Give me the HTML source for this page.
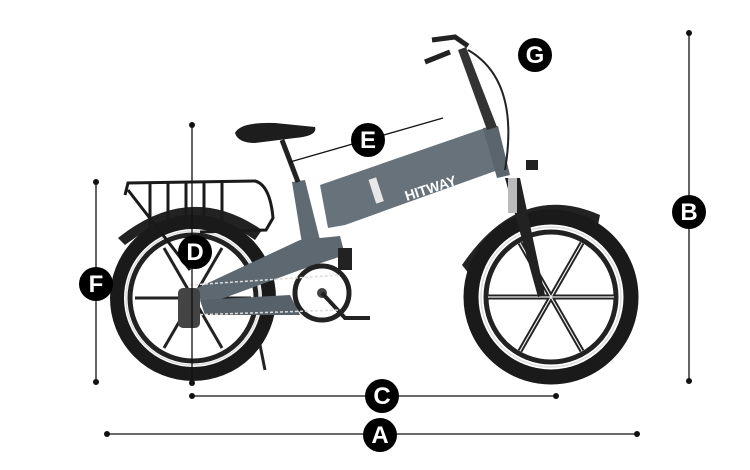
<!DOCTYPE html>
<html><head><style>body{margin:0;background:#fff}svg{display:block}</style></head><body>
<svg width="750" height="470" viewBox="0 0 750 470" xmlns="http://www.w3.org/2000/svg" font-family="Liberation Sans, sans-serif">
<rect width="750" height="470" fill="#fff"/>
<!-- fenders -->
<path d="M118 238 Q190 180 262 230 L255 240 Q190 195 125 245 Z" fill="#222"/>
<path d="M462 265 Q520 180 600 215 L598 225 Q525 195 470 275 Z" fill="#222"/>
<!-- rear wheel -->
<circle cx="193" cy="298" r="76" fill="none" stroke="#1a1a1a" stroke-width="14"/>
<circle cx="193" cy="298" r="67" fill="none" stroke="#ddd" stroke-width="1.5"/>
<circle cx="193" cy="298" r="63" fill="none" stroke="#222" stroke-width="5"/>
<g stroke="#222" stroke-width="3"><line x1="135" y1="298" x2="251" y2="298"/><line x1="164" y1="248" x2="222" y2="348"/><line x1="222" y1="248" x2="164" y2="348"/></g>
<!-- front wheel -->
<circle cx="551" cy="297" r="80" fill="none" stroke="#1a1a1a" stroke-width="15"/>
<circle cx="551" cy="297" r="70" fill="none" stroke="#ddd" stroke-width="1.5"/>
<circle cx="551" cy="297" r="65" fill="none" stroke="#222" stroke-width="5"/>
<g stroke="#222" stroke-width="5"><line x1="488" y1="297" x2="614" y2="297"/><line x1="520" y1="243" x2="582" y2="351"/><line x1="582" y1="243" x2="520" y2="351"/></g>
<g stroke="#eee" stroke-width="1.2"><line x1="488" y1="297" x2="614" y2="297"/><line x1="520" y1="243" x2="582" y2="351"/><line x1="582" y1="243" x2="520" y2="351"/></g>
<!-- rack -->
<g fill="none" stroke="#1a1a1a" stroke-width="3">
<path d="M125 195 L128 183 L255 181 Q270 185 273 218 L266 230 L200 232"/>
<line x1="150" y1="183" x2="150" y2="228"/><line x1="168" y1="183" x2="168" y2="228"/><line x1="186" y1="183" x2="186" y2="228"/><line x1="204" y1="183" x2="204" y2="228"/><line x1="222" y1="183" x2="222" y2="228"/>
<line x1="128" y1="190" x2="190" y2="270"/>
</g>
<!-- frame -->
<path d="M292 182 L305 180 L325 260 L305 262 Z" fill="#5f6a73"/>
<path d="M320 185 L485 128 L498 170 L345 225 L328 228 Z" fill="#67727b"/>
<path d="M193 290 L300 240 L340 236 L345 255 L300 270 L205 305 Z" fill="#5d6871"/>
<path d="M200 300 L290 295 L300 315 L205 315 Z" fill="#56616a"/>
<path d="M483 128 L498 126 L510 175 L497 178 Z" fill="#5a656e"/>
<text x="403" y="193" fill="#fff" font-weight="bold" font-size="14" transform="rotate(-18 430 185)">HITWAY</text>
<rect x="372" y="178" width="8" height="25" fill="#e8e8e8" transform="rotate(-18 376 190)"/>
<!-- fork -->
<path d="M505 178 L520 178 L545 295 L538 297 Z" fill="#222"/>
<rect x="508" y="178" width="9" height="35" fill="#bbb"/>
<!-- handlebar -->
<path d="M487 130 L458 50 L466 47 L497 127 Z" fill="#333"/>
<path d="M432 40 L455 37 L468 46 M425 62 L450 52" stroke="#222" stroke-width="5" fill="none"/>
<path d="M468 50 Q520 80 505 170" stroke="#222" stroke-width="2" fill="none"/>
<rect x="526" y="160" width="12" height="10" fill="#222"/>
<!-- seat -->
<path d="M235 133 Q240 122 275 123 L315 127 Q318 136 295 138 L255 143 Q238 143 235 133 Z" fill="#1d1d1d"/>
<path d="M282 140 L298 182" stroke="#222" stroke-width="5"/>
<!-- crank -->
<circle cx="322" cy="293" r="27" fill="none" stroke="#222" stroke-width="5"/>
<circle cx="322" cy="293" r="5" fill="#444"/>
<path d="M322 293 L345 318 L370 318" stroke="#222" stroke-width="4" fill="none"/>
<rect x="338" y="248" width="14" height="22" fill="#222"/>
<path d="M190 285 L340 275 M190 315 L340 310" stroke="#ddd" stroke-width="1.5" stroke-dasharray="3 2"/>
<rect x="178" y="288" width="22" height="40" fill="#444" rx="5"/>
<path d="M260 345 L265 370" stroke="#222" stroke-width="3"/>
<!-- dimension lines -->
<g stroke="#111" stroke-width="1.3">
<line x1="689" y1="33" x2="689" y2="381"/>
<line x1="96" y1="182" x2="96" y2="382"/>
<line x1="192" y1="125" x2="192" y2="383"/>
<line x1="192" y1="396" x2="556" y2="396"/>
<line x1="107" y1="434" x2="637" y2="434"/>
<line x1="290" y1="162" x2="443" y2="118"/>
</g>
<g fill="#111">
<circle cx="689" cy="33" r="3"/><circle cx="689" cy="381" r="3"/>
<circle cx="96" cy="182" r="3"/><circle cx="96" cy="382" r="3"/>
<circle cx="192" cy="125" r="3"/><circle cx="192" cy="383" r="3"/>
<circle cx="192" cy="396" r="3"/><circle cx="556" cy="396" r="3"/>
<circle cx="107" cy="434" r="3"/><circle cx="637" cy="434" r="3"/>
</g>
<g fill="#000">
<circle cx="535" cy="55" r="17"/><circle cx="368" cy="140" r="17"/><circle cx="689" cy="212" r="17"/>
<circle cx="195" cy="252" r="17"/><circle cx="96" cy="284" r="17"/><circle cx="382" cy="396" r="17"/><circle cx="380" cy="435" r="17"/>
</g>
<g fill="#fff" font-weight="bold" font-size="24" text-anchor="middle" font-family="Liberation Sans Narrow, Liberation Sans, sans-serif">
<text x="535" y="63">G</text><text x="368" y="148">E</text><text x="689" y="220">B</text>
<text x="195" y="260">D</text><text x="96" y="292">F</text><text x="382" y="404">C</text><text x="380" y="443">A</text>
</g>
</svg>
</body></html>
